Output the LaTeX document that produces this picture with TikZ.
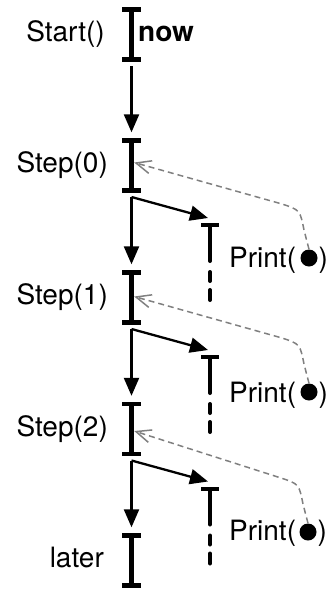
\documentclass[tikz,border=0pt]{standalone}
\usepackage{fontspec}
\setmainfont{TeX Gyre Heros}
\usetikzlibrary{arrows.meta,calc}
\begin{document}
\begin{tikzpicture}[x=1pt,y=-1pt,
  lbl/.style={font=\fontsize{28}{33}\selectfont, inner sep=0pt},
  barnode/.style={inner sep=0pt, minimum width=5pt, minimum height=50pt},
  flow/.style={line width=2.3pt, -{Triangle[length=18pt,width=15pt]}},
  callback/.style={draw=black!50, line width=1.5pt, dash pattern=on 6pt off 4pt,
    -{Straight Barb[length=15pt,width=13pt]}},
  dotnode/.style={circle, fill=black, inner sep=0pt, minimum size=17pt},
  stub/.style={line width=4pt, line cap=round},
]
\useasboundingbox (0,0) rectangle (331,589);

% main time line: one I-beam per step
\node[barnode] (b0) at (131.5,34.5) {};
\node[barnode] (b1) at (131.5,165.5) {};
\node[barnode] (b2) at (131.5,297.5) {};
\node[barnode] (b3) at (131.5,429) {};
\node[barnode] (b4) at (131.5,560.5) {};
\foreach \b in {b0,b1,b2,b3,b4}{
  \draw[line width=5pt] (\b.north) -- (\b.south);
  \draw[line width=4.5pt] ([xshift=-9.5pt]\b.north) -- ([xshift=9.5pt]\b.north);
  \draw[line width=4.5pt] ([xshift=-9.5pt]\b.south) -- ([xshift=9.5pt]\b.south);
}

% step labels
\node[lbl, anchor=base east] (l0) at (105,41.5) {Start()};
\node[lbl, anchor=base east] (l1) at (108,172.5) {Step(0)};
\node[lbl, anchor=base east] (l2) at (108,304.5) {Step(1)};
\node[lbl, anchor=base east] (l3) at (108,436) {Step(2)};
\node[lbl, anchor=base east] (l4) at (104,567.5) {later};
\node[lbl, anchor=base west, font=\fontsize{28}{33}\selectfont\bfseries] (now) at (138,41.5) {now};

% fork points below each bar
\coordinate (f0) at (131.5,66);
\coordinate (f1) at (131.5,197);
\coordinate (f2) at (131.5,329);
\coordinate (f3) at (131.5,460.5);

\draw[flow] (f0) -- ([yshift=8pt]b1.north);
\draw[flow] (f1) -- ([yshift=8pt]b2.north);
\draw[flow] (f2) -- ([yshift=8pt]b3.north);
\draw[flow] (f3) -- ([yshift=8pt]b4.north);

% scheduled prints: side arrow, short bar with dashed tail
\foreach \i in {1,2,3}{
  \coordinate (s\i) at ($(f\i)+(78.5,28)$);
  \draw[flow] (f\i) -- ($(s\i)+(-2,-7)$);
  \draw[line width=4pt] ($(s\i)+(-9,0)$) -- ($(s\i)+(9,0)$);
  \draw[stub] ($(s\i)+(0,2)$) -- ($(s\i)+(0,36)$);
  \draw[stub] ($(s\i)+(0,47)$) -- ($(s\i)+(0,56)$);
  \draw[stub] ($(s\i)+(0,65)$) -- ($(s\i)+(0,75)$);
}

% Print(●) labels
\node[lbl, anchor=base west] (p1) at (229,267) {Print(};
\node[dotnode] (d1) at (309,258) {};
\node[lbl, anchor=base west] (c1) at (318.5,267) {)};
\node[lbl, anchor=base west] (p2) at (229,402) {Print(};
\node[dotnode] (d2) at (309,392) {};
\node[lbl, anchor=base west] (c2) at (318.5,402) {)};
\node[lbl, anchor=base west] (p3) at (229,540) {Print(};
\node[dotnode] (d3) at (308,532) {};
\node[lbl, anchor=base west] (c3) at (317.5,540) {)};

% callbacks back into the following step
\draw[callback] (d1.north) -- ($(d1)+(-5,-28)$) .. controls ($(d1)+(-9,-48)$) .. ($(d1)+(-27,-54)$) -- ([yshift=3pt]b1.east);
\draw[callback] (d2.north) -- ($(d2)+(-5,-28)$) .. controls ($(d2)+(-9,-48)$) .. ($(d2)+(-27,-54)$) -- ([yshift=1pt]b2.east);
\draw[callback] (d3.north) -- ($(d3)+(-5,-28)$) .. controls ($(d3)+(-9,-48)$) .. ($(d3)+(-27,-54)$) -- ([yshift=-2pt]b3.east);
\end{tikzpicture}
\end{document}
